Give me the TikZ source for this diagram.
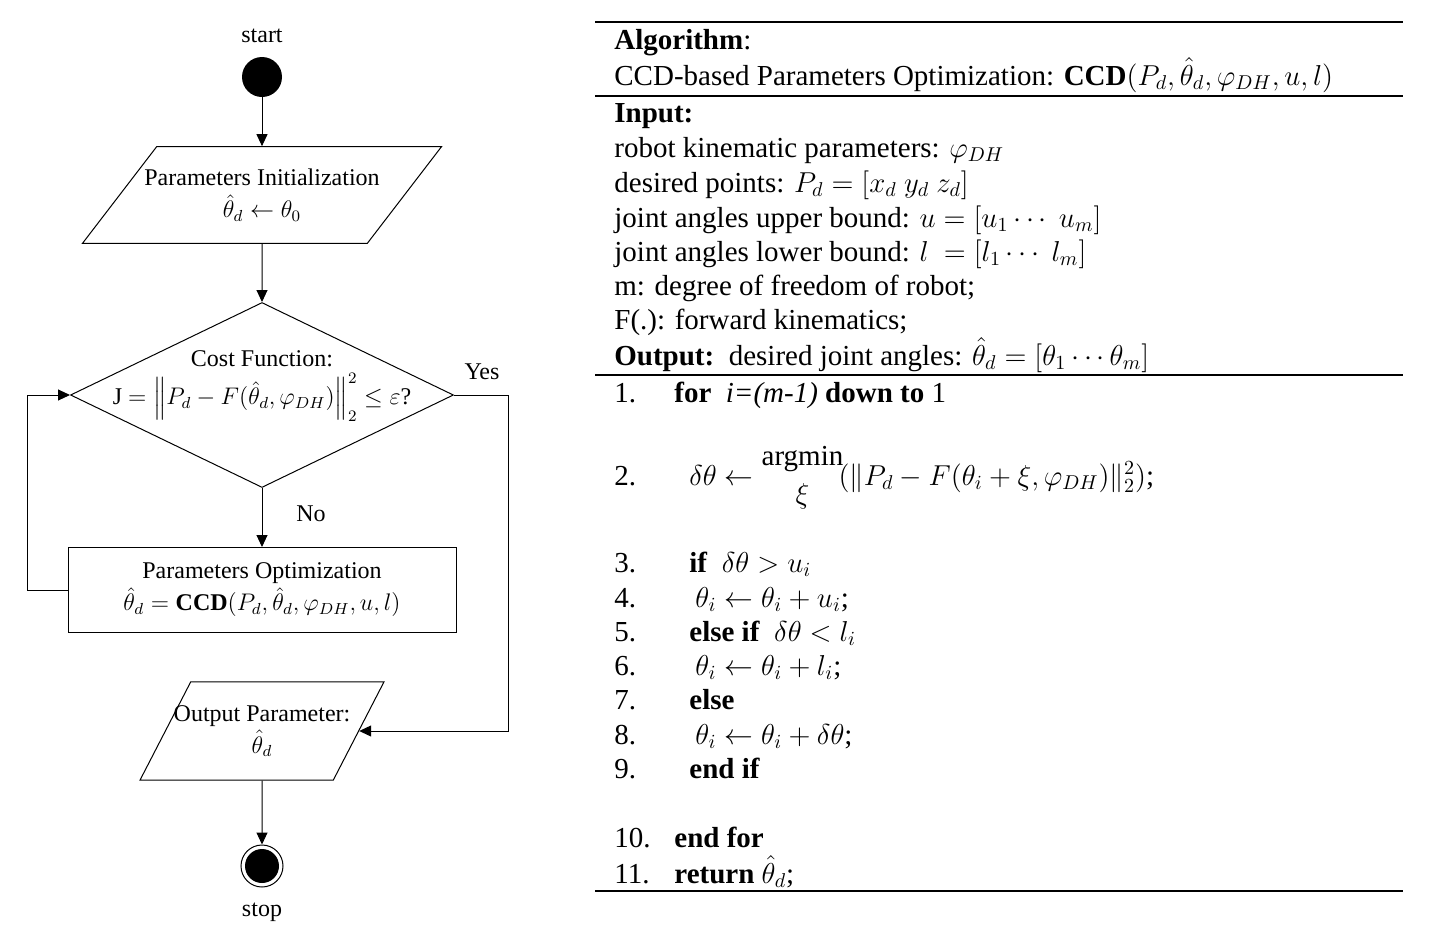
\documentclass[tikz,border=0pt]{standalone}
\usepackage{amsmath}
\usepackage{fontspec}
\setmainfont{Liberation Serif}
\usetikzlibrary{shapes.geometric,arrows.meta}

\tikzset{
  flow/.style={draw,line width=0.5pt,align=center,inner sep=0pt,font=\fontsize{12}{16}\selectfont},
  io/.style={flow,trapezium,trapezium stretches body=true},
  lbl/.style={inner sep=0pt,font=\fontsize{12}{14}\selectfont},
  arr/.style={line width=0.5pt,-{Triangle[length=6pt,width=5.5pt]}},
  rule/.style={line width=1pt},
  alg/.style={anchor=west,inner sep=0pt,font=\fontsize{14.5}{17}\selectfont,text height=10pt,text depth=3pt},
}

\begin{document}
\begin{tikzpicture}[x=0.5pt,y=-0.5pt]
\useasboundingbox (0,0) rectangle (1448,948);

\node[lbl] (starttxt) at (262,36) {start};
\node[circle,fill=black,minimum size=20pt,inner sep=0pt] (start) at (262,77) {};
\node[io,trapezium left angle=52.5,trapezium right angle=127.5,
      inner xsep=-7pt,inner ysep=11.1pt,minimum width=179.5pt] (init) at (262,195)
  {Parameters Initialization\\ $\hat{\theta}_d\leftarrow\theta_0$};
\node[flow,diamond,aspect=2.07,minimum width=191.5pt,minimum height=92.5pt] (cost) at (262,395) {};
\node[lbl,align=center,font=\fontsize{12}{19}\selectfont] (costtxt) at (262,386)
  {Cost Function:\\ J $=\left\|P_d-F(\hat{\theta}_d,\varphi_{DH})\right\|_2^2\le\varepsilon$?};
\node[flow,rectangle,minimum width=194pt,minimum height=42.5pt] (opt) at (262,590)
  {Parameters Optimization\\ $\hat{\theta}_d=\mathbf{CCD}(P_d,\hat{\theta}_d,\varphi_{DH},u,l)$};
\node[io,trapezium left angle=62.7,trapezium right angle=117.3,
      inner xsep=-8.8pt,inner ysep=11.7pt,minimum width=122pt] (outp) at (262,731)
  {Output Parameter:\\ $\hat{\theta}_d$};
\node[circle,draw,line width=0.5pt,minimum size=21pt,inner sep=0pt,
      path picture={\fill[black] (path picture bounding box.center) circle (8.5pt);}] (stop) at (262,866) {};
\node[lbl] (stoptxt) at (262,912) {stop};
\node[lbl] (yes) at (482,372) {Yes};
\node[lbl] (no) at (311,514) {No};

\draw[arr] (start) -- (init);
\draw[arr] (init) -- (cost);
\draw[arr] (cost) -- (opt);
\draw[arr] (opt.west) -- ++(-40,0) |- (cost.west);
\draw[arr] (cost.east) -- ++(54,0) |- (outp.right side);
\draw[arr] (outp) -- (stop);

\draw[rule] (595,22) -- (1403,22);
\draw[rule] (595,96) -- (1403,96);
\draw[rule] (595,375) -- (1403,375);
\draw[rule] (595,891) -- (1403,891);

\node[alg] (head) at (614,42) {\textbf{Algorithm}:};
\node[alg] (title) at (614,78) {CCD-based Parameters Optimization: \textbf{CCD}$(P_d,\hat{\theta}_d,\varphi_{DH},u,l)$};
\node[alg] (input) at (614,115) {\textbf{Input:}};
\node[alg] (in1) at (614,150) {robot kinematic parameters: $\varphi_{DH}$};
\node[alg] (in2) at (614,185) {desired points: $P_d=[x_d\ y_d\ z_d]$};
\node[alg] (in3) at (614,220) {joint angles upper bound: $u=[u_1\cdots\ u_m]$};
\node[alg] (in4) at (614,254) {joint angles lower bound: $l\ =[l_1\cdots\ l_m]$};
\node[alg] (in5) at (614,288) {m: degree of freedom of robot;};
\node[alg] (in6) at (614,322) {F(.): forward kinematics;};
\node[alg] (output) at (614,358) {\textbf{Output:}\ \ desired joint angles: $\hat{\theta}_d=[\theta_1\cdots\theta_m]$};

\foreach \y/\n in {395/1,478/2,565/3,600/4,634/5,668/6,702/7,737/8,771/9,840/10,876/11}
  \node[alg] (num\n) at (614,\y) {\n.};

\foreach \x/\y/\n/\s in {
    674/395/1/{\textbf{for}\ \ \textit{i=(m-1)} \textbf{down to} 1},
    689/478/2/{$\delta\theta\leftarrow\begin{array}{@{}c@{}}\text{argmin}\\[2pt]\xi\end{array}\!(\|P_d-F(\theta_i+\xi,\varphi_{DH})\|_2^2)$;},
    689/565/3/{\textbf{if}\ \ $\delta\theta>u_i$},
    695/600/4/{$\theta_i\leftarrow\theta_i+u_i$;},
    689/634/5/{\textbf{else if}\ \ $\delta\theta<l_i$},
    695/668/6/{$\theta_i\leftarrow\theta_i+l_i$;},
    689/702/7/{\textbf{else}},
    695/737/8/{$\theta_i\leftarrow\theta_i+\delta\theta$;},
    689/771/9/{\textbf{end if}},
    674/840/10/{\textbf{end for}},
    674/876/11/{\textbf{return} $\hat{\theta}_d$;}}
  \node[alg] (step\n) at (\x,\y) {\s};
\end{tikzpicture}
\end{document}
